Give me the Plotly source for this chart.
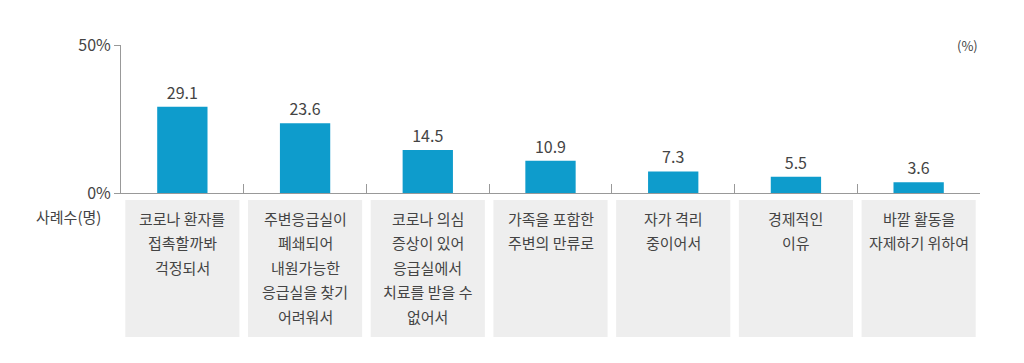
import plotly.graph_objects as go

categories = [
    "코로나 환자를<br>접촉할까봐<br>걱정되서",
    "주변응급실이<br>폐쇄되어<br>내원가능한<br>응급실을 찾기<br>어려워서",
    "코로나 의심<br>증상이 있어<br>응급실에서<br>치료를 받을 수<br>없어서",
    "가족을 포함한<br>주변의 만류로",
    "자가 격리<br>중이어서",
    "경제적인<br>이유",
    "바깥 활동을<br>자제하기 위하여",
]
values = [29.1, 23.6, 14.5, 10.9, 7.3, 5.5, 3.6]
y_ticks = [0, 50]
y_ticktext = ["0%", "50%"]

FONT = "Noto Sans CJK KR"
TXT = "#444444"
BAR = "#0e9ccc"

# page body has an 8px margin in the browser
OFF = 8
x = list(range(len(values)))

fig = go.Figure()
fig.add_trace(go.Bar(
    x=x, y=values, width=0.41,
    marker=dict(color=BAR, line=dict(width=0)),
    text=[f"{v:.1f}" for v in values],
    textposition="outside",
    textfont=dict(family=FONT, size=16, color=TXT),
    cliponaxis=False,
    hoverinfo="skip",
))

PH = 148.0  # plot height in px
PW = 859.0
shapes = []
annotations = []
for i, cat in enumerate(categories):
    shapes.append(dict(
        type="rect", xref="x", yref="paper",
        x0=i - 0.465, x1=i + 0.465,
        y0=-(337 - 193) / PH, y1=-(200 - 193) / PH,
        fillcolor="#eeeeee", line=dict(width=0), layer="below",
    ))
    for j, line in enumerate(cat.split("<br>")):
        annotations.append(dict(
            xref="x", yref="paper", x=i,
            y=-(218 - 193 + 24.5 * j) / PH,
            yanchor="middle", xanchor="center",
            text=line, showarrow=False,
            font=dict(family=FONT, size=15, color=TXT),
        ))

annotations.append(dict(
    xref="paper", yref="paper", x=-(121 - 103) / PW, y=-(216 - 193) / PH,
    xanchor="right", yanchor="middle", text="사례수(명)", showarrow=False,
    font=dict(family=FONT, size=15, color=TXT),
))
annotations.append(dict(
    xref="paper", yref="paper", x=(980 - 121) / PW, y=1.0,
    xanchor="right", yanchor="middle", text="(%)", showarrow=False,
    font=dict(family=FONT, size=13, color=TXT),
))

fig.update_layout(
    width=1024 - OFF, height=363 - OFF,
    margin=dict(l=121 - OFF, r=44, t=45 - OFF, b=170),
    paper_bgcolor="white", plot_bgcolor="white",
    showlegend=False,
    shapes=shapes, annotations=annotations,
    xaxis=dict(
        range=[-0.5, len(values) - 0.5],
        tickvals=[i + 0.5 for i in range(len(values))],
        ticktext=[""] * len(values),
        ticks="inside", ticklen=9, tickcolor="#999999", tickwidth=1,
        showline=True, linecolor="#999999", linewidth=1,
        showgrid=False, zeroline=False, fixedrange=True,
    ),
    yaxis=dict(
        range=[0, 50],
        tickvals=y_ticks, ticktext=y_ticktext,
        ticks="outside", ticklen=6, tickcolor="#999999",
        showline=True, linecolor="#999999", linewidth=1,
        showgrid=False, zeroline=False,
        tickfont=dict(family=FONT, size=16, color=TXT),
        fixedrange=True, automargin=False,
    ),
    font=dict(family=FONT, color=TXT),
)

fig.write_html("out.html")
